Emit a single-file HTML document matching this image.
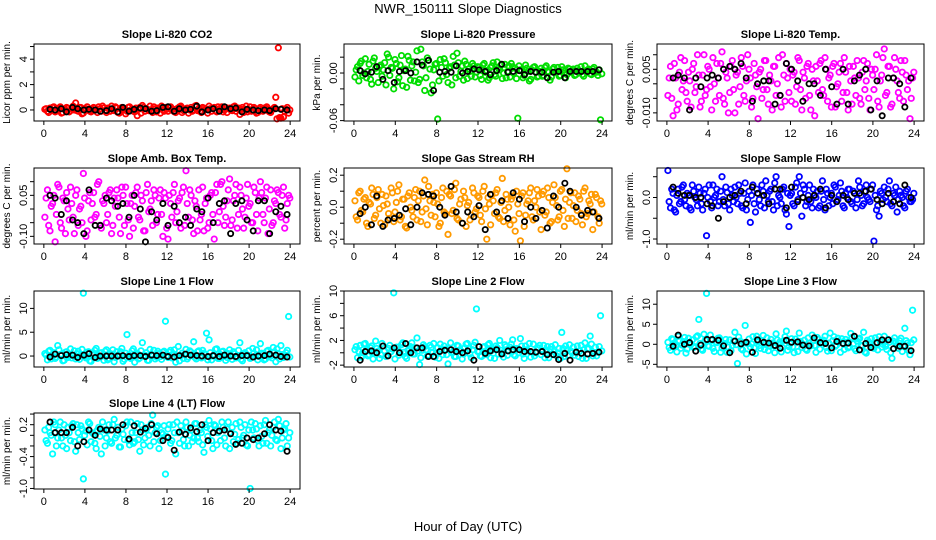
<!DOCTYPE html>
<html><head><meta charset="utf-8"><style>
body{margin:0;background:#fff;}
svg{display:block;font-family:"Liberation Sans",Arial,sans-serif;}
</style></head><body>
<svg id="chart" width="936" height="540" viewBox="0 0 936 540" xmlns="http://www.w3.org/2000/svg">
<rect width="936" height="540" fill="#fff"/>
<text x="468" y="13" text-anchor="middle" font-size="13">NWR_150111  Slope Diagnostics</text>
<text x="468" y="531" text-anchor="middle" font-size="13">Hour of Day (UTC)</text>
</svg>
<script>
const xColored = [0.1,0.35,0.6,0.85,1.1,1.35,1.6,1.85,2.1,2.35,2.6,2.85,3.1,3.35,3.6,3.85,4.1,4.35,4.6,4.85,5.1,5.35,5.6,5.85,6.1,6.35,6.6,6.85,7.1,7.35,7.6,7.85,8.1,8.35,8.6,8.85,9.1,9.35,9.6,9.85,10.1,10.35,10.6,10.85,11.1,11.35,11.6,11.85,12.1,12.35,12.6,12.85,13.1,13.35,13.6,13.85,14.1,14.35,14.6,14.85,15.1,15.35,15.6,15.85,16.1,16.35,16.6,16.85,17.1,17.35,17.6,17.85,18.1,18.35,18.6,18.85,19.1,19.35,19.6,19.85,20.1,20.35,20.6,20.85,21.1,21.35,21.6,21.85,22.1,22.35,22.6,22.85,23.1,23.35,23.6,23.85];
const xColored2 = [0.22,0.47,0.72,0.97,1.22,1.47,1.72,1.97,2.22,2.47,2.72,2.97,3.22,3.47,3.72,3.97,4.22,4.47,4.72,4.97,5.22,5.47,5.72,5.97,6.22,6.47,6.72,6.97,7.22,7.47,7.72,7.97,8.22,8.47,8.72,8.97,9.22,9.47,9.72,9.97,10.22,10.47,10.72,10.97,11.22,11.47,11.72,11.97,12.22,12.47,12.72,12.97,13.22,13.47,13.72,13.97,14.22,14.47,14.72,14.97,15.22,15.47,15.72,15.97,16.22,16.47,16.72,16.97,17.22,17.47,17.72,17.97,18.22,18.47,18.72,18.97,19.22,19.47,19.72,19.97,20.22,20.47,20.72,20.97,21.22,21.47,21.72,21.97,22.22,22.47,22.72,22.97,23.22,23.47,23.72,23.97];
const xBlack = [0.6,1.1,1.7,2.2,2.8,3.3,3.9,4.4,5.0,5.5,6.1,6.6,7.2,7.7,8.3,8.8,9.4,9.9,10.5,11.0,11.6,12.1,12.7,13.2,13.8,14.3,14.9,15.4,16.0,16.5,17.1,17.6,18.2,18.7,19.3,19.8,20.4,20.9,21.5,22.0,22.6,23.1,23.7];
const xTicks = [0,4,8,12,16,20,24];

const co2C = [0.05,-0.1,0.15,0.2,-0.15,0.1,0.25,-0.2,0.0,0.12,-0.05,0.3, 0.55,-0.1,0.2,-0.25,0.1,0.05,-0.15,0.2,0.0,0.25,-0.1,0.15, -0.2,0.1,0.3,-0.05,0.15,-0.25,0.2,0.05,-0.1,0.25,0.0,-0.15, -0.45,0.2,0.35,-0.1,0.05,0.3,-0.2,0.1,0.15,-0.25,0.0,0.2, -0.1,0.25,0.05,-0.2,0.15,0.3,-0.05,0.1,-0.25,0.2,0.0,0.35, 0.1,-0.2,0.15,0.05,0.3,-0.1,0.2,-0.15,0.1,0.25,0.0,-0.2, 0.15,-0.05,0.3,0.1,-0.35,0.2,0.05,-0.15,0.25,0.0,0.1,-0.2, 0.2,-0.1,0.15,0.05,-0.2,0.1,1.0,4.9,-0.65,-0.55,0.05,-0.25];
const co2C2 = [0.1,-0.2,0.0,0.25,-0.1,0.15,-0.25,0.05,0.2,-0.15,0.1,0.0, -0.05,0.2,-0.3,0.1,0.25,-0.1,0.0,0.15,-0.2,0.1,0.3,-0.05, 0.15,-0.1,0.0,0.25,-0.2,0.1,0.05,-0.3,0.2,0.0,-0.1,0.15, 0.05,-0.25,0.2,0.1,-0.05,0.0,0.25,-0.15,0.1,0.3,-0.1,0.05, 0.2,0.0,-0.15,0.1,0.25,-0.2,0.05,0.15,0.0,-0.1,0.3,-0.05, -0.1,0.2,0.05,-0.25,0.1,0.15,-0.05,0.25,0.0,-0.15,0.2,0.1, 0.0,0.25,-0.1,0.15,0.05,-0.2,0.3,0.0,-0.1,0.2,-0.25,0.1, -0.05,0.15,0.25,-0.15,0.0,0.2,-0.7,-0.6,0.1,-0.1,0.2,0.0];
const co2B = [0.05,0.0,0.1,-0.15,0.2,0.1,0.0,0.05,0.0,-0.1,-0.05,0.1,-0.15,0.2,-0.1,0.05,0.15,0.1,-0.1,-0.05,0.2,0.25,-0.1,0.1,0.0,0.05,0.3,-0.15,0.0,0.1,-0.1,0.25,0.1,0.15,-0.15,0.05,0.0,-0.05,0.0,-0.05,0.1,0.05,0.0];

const presC = [-0.005,0.008,0.012,-0.003,0.018,0.002,-0.008,0.015,0.006,-0.012,0.01,0.004, -0.015,0.02,0.007,-0.02,0.012,-0.006,0.022,0.003,-0.018,0.016,0.009,-0.01, 0.028,-0.008,0.014,-0.022,0.019,0.005,-0.015,0.011,-0.058,0.017,-0.004,0.013, -0.012,0.008,0.021,-0.006,0.013,0.002,-0.009,0.011,0.005,-0.004,0.009,0.001, 0.007,-0.008,0.012,0.003,-0.006,0.009,-0.002,0.014,0.004,-0.007,0.011,0.002, -0.005,0.008,0.006,-0.057,0.004,-0.006,0.01,0.002,-0.008,0.007,0.001,-0.004, 0.006,-0.003,0.009,0.001,-0.005,0.007,0.002,-0.004,0.008,0.0,-0.002,0.005, 0.003,-0.003,0.006,0.001,-0.002,0.009,0.004,-0.001,0.005,0.002,-0.003,-0.059];
const presC2 = [0.004,-0.01,0.015,0.0,-0.006,0.011,-0.014,0.019,0.002,0.008,-0.004,0.013, 0.024,-0.003,0.006,0.017,-0.011,0.01,-0.016,0.005,0.021,-0.009,0.014,0.001, -0.012,0.03,0.009,-0.006,0.016,-0.025,0.004,0.012,-0.01,0.007,0.018,-0.002, 0.006,-0.015,0.01,0.025,-0.004,0.009,0.015,-0.007,0.002,0.012,-0.005,0.008, -0.003,0.01,0.001,-0.009,0.007,0.013,-0.004,0.006,0.01,0.0,-0.006,0.009, 0.012,0.0,-0.007,0.009,0.003,-0.003,0.006,-0.01,0.004,0.008,-0.005,0.002, -0.004,0.007,0.002,-0.009,0.005,0.001,0.007,-0.003,0.004,-0.006,0.006,0.001, 0.005,-0.002,0.003,0.008,-0.004,0.002,0.005,-0.002,0.007,0.001,0.004,-0.001];
const presB = [0.003,-0.001,0.001,0.008,-0.008,0.003,-0.012,0.002,0.003,0.0,0.014,0.01,0.016,-0.022,0.001,0.002,0.001,0.009,0.0,0.002,0.005,0.004,0.002,-0.002,0.003,0.011,0.001,0.002,0.003,-0.002,0.002,0.001,0.001,-0.006,0.001,0.002,-0.006,0.002,0.002,0.002,0.002,0.002,0.004];

const tempC = [-0.004,0.006,-0.011,0.002,-0.007,0.009,0.001,-0.003,0.004,-0.008,0.007,-0.001, 0.003,-0.006,0.01,-0.002,0.005,-0.009,0.0,0.007,-0.004,0.011,-0.007,0.002, -0.003,0.008,-0.01,0.004,-0.001,0.006,-0.006,0.01,0.002,-0.005,0.003,-0.012, 0.005,-0.002,0.008,-0.007,0.001,0.006,-0.004,0.009,-0.008,0.003,0.007,-0.003, -0.006,0.004,-0.001,0.008,-0.009,0.002,0.006,-0.004,0.005,-0.011,0.001,0.007, -0.002,0.009,-0.006,0.003,0.006,-0.008,0.0,0.007,-0.003,0.004,-0.009,0.001, 0.006,-0.004,0.002,-0.007,0.008,0.001,-0.005,0.005,-0.002,0.01,-0.008,0.003, 0.012,-0.003,0.006,-0.007,0.009,0.001,-0.005,0.004,0.008,-0.002,-0.012,0.002];
const tempC2 = [0.002,-0.005,0.007,-0.009,0.004,-0.002,0.008,-0.006,0.001,0.005,-0.003,0.01, -0.008,0.003,-0.004,0.006,-0.001,0.009,-0.006,0.002,0.007,-0.005,0.004,-0.01, 0.006,-0.002,0.003,-0.007,0.009,-0.004,0.001,0.005,-0.008,0.007,-0.001,0.004, -0.005,0.008,-0.002,0.003,-0.009,0.006,0.0,-0.004,0.01,-0.006,0.002,0.005, 0.003,-0.007,0.009,-0.002,0.004,-0.005,0.007,-0.009,0.001,0.006,-0.003,0.008, -0.004,0.005,0.002,-0.008,0.007,-0.001,0.004,-0.006,0.009,-0.003,0.006,-0.007, 0.002,0.008,-0.005,0.004,-0.002,0.007,-0.009,0.003,0.005,-0.006,0.001,0.009, -0.004,0.006,-0.008,0.002,0.005,-0.003,0.008,-0.006,0.003,0.001,-0.005,0.004];
const tempB = [0.002,0.003,0.002,-0.009,0.002,-0.001,0.002,0.003,0.002,0.005,0.006,0.005,0.007,0.002,-0.006,0.0,0.001,0.001,-0.007,-0.004,0.007,0.005,0.001,-0.006,0.0,0.0,-0.004,0.005,-0.001,-0.007,0.005,-0.007,0.001,0.003,0.005,-0.009,0.001,-0.011,0.002,0.002,0.0,-0.008,0.002];

const ambC = [-0.03,0.07,-0.08,0.02,-0.12,0.09,-0.05,0.04,-0.09,0.0,0.08,-0.03, 0.05,-0.06,0.01,0.13,-0.1,0.03,-0.04,0.06,-0.02,0.1,-0.07,0.02, -0.05,0.06,-0.09,0.04,0.07,-0.03,0.08,-0.06,0.02,-0.1,0.05,0.01, 0.08,-0.04,0.03,-0.08,0.09,0.0,-0.06,0.05,-0.02,0.07,-0.1,0.04, -0.11,0.02,0.06,-0.05,0.03,-0.07,0.08,0.14,-0.03,0.05,-0.09,0.01, 0.07,-0.02,-0.08,0.04,-0.05,0.06,-0.11,0.09,-0.01,0.1,-0.06,0.03, 0.11,-0.04,0.05,-0.07,0.08,0.0,-0.03,0.09,0.02,-0.05,0.06,-0.08, 0.1,-0.02,0.04,-0.09,0.07,-0.05,0.02,0.06,-0.03,0.08,-0.04,0.05];
const ambC2 = [0.04,-0.06,0.01,0.05,-0.02,0.08,-0.07,0.03,0.06,-0.04,0.02,-0.09, 0.07,0.0,-0.05,0.04,-0.08,0.06,0.02,-0.03,0.09,-0.06,0.03,0.05, -0.02,0.07,-0.06,0.01,0.04,-0.09,0.05,0.08,-0.04,0.02,-0.07,0.06, -0.03,0.05,-0.08,0.06,-0.01,0.03,0.07,-0.05,0.04,-0.02,0.06,-0.07, 0.05,-0.03,0.09,-0.01,0.04,0.06,-0.06,0.02,0.07,-0.04,0.03,-0.08, -0.04,0.08,0.02,-0.07,0.05,-0.02,0.06,-0.05,0.09,0.01,-0.03,0.07, -0.06,0.03,0.09,-0.02,0.05,-0.07,0.04,0.01,-0.05,0.08,-0.02,0.04, 0.06,-0.05,0.08,0.0,-0.06,0.03,0.07,-0.02,0.05,-0.07,0.02,0.04];
const ambB = [0.05,0.04,-0.02,0.03,-0.04,-0.05,-0.09,0.07,-0.06,-0.06,0.04,0.03,0.01,0.02,-0.03,0.05,0.0,-0.12,-0.01,-0.04,0.02,-0.06,0.01,-0.05,-0.03,-0.06,0.0,-0.01,0.04,-0.05,0.02,0.03,-0.09,0.02,0.03,-0.04,-0.08,0.03,0.03,-0.09,-0.01,0.01,-0.02];

const rhC = [0.04,-0.08,0.1,-0.03,0.06,-0.12,0.02,0.08,-0.05,0.11,-0.1,0.01, 0.07,-0.04,0.12,-0.09,0.03,0.14,-0.06,0.05,-0.13,0.09,-0.02,0.06, -0.08,0.1,-0.03,0.17,-0.11,0.04,0.08,-0.06,0.02,-0.1,0.12,-0.04, -0.17,0.07,-0.02,0.15,-0.08,0.05,0.1,-0.12,0.03,-0.05,0.09,-0.01, 0.06,-0.09,0.13,-0.2,0.02,0.08,-0.04,0.11,-0.07,0.18,-0.02,0.05, -0.11,0.07,-0.15,0.02,-0.21,0.09,-0.05,0.04,0.12,-0.08,0.0,0.07, -0.14,0.1,-0.03,0.06,-0.09,0.14,0.01,-0.06,0.11,-0.12,0.24,0.03, -0.07,0.09,-0.02,0.05,-0.11,0.12,-0.04,0.02,-0.14,0.08,-0.06,0.04];
const rhC2 = [-0.06,0.09,-0.02,0.05,-0.1,0.03,0.12,-0.07,0.06,-0.01,0.08,-0.11, 0.02,-0.07,0.09,-0.03,0.1,-0.08,0.05,-0.12,0.07,0.0,-0.06,0.11, 0.04,-0.09,0.07,-0.01,0.13,-0.05,0.03,0.09,-0.12,0.06,-0.03,0.1, 0.08,-0.04,0.11,-0.07,0.02,-0.1,0.06,0.01,-0.08,0.12,-0.03,0.07, -0.05,0.1,-0.01,0.06,-0.11,0.04,0.09,-0.06,0.03,-0.09,0.08,0.0, 0.05,-0.08,0.1,-0.04,0.07,-0.12,0.02,0.09,-0.06,0.04,0.11,-0.03, 0.08,-0.05,0.12,-0.1,0.03,0.06,-0.08,0.1,-0.02,0.05,-0.07,0.09, 0.01,-0.09,0.07,-0.04,0.1,-0.06,0.04,0.08,-0.03,0.06,-0.1,0.02];
const rhB = [-0.04,0.0,-0.11,0.07,-0.12,-0.08,-0.07,-0.05,-0.01,-0.11,0.0,0.09,0.08,0.07,0.0,-0.05,0.13,-0.03,-0.1,-0.03,-0.06,0.01,-0.14,0.08,-0.03,0.04,-0.07,0.09,0.05,-0.09,0.0,-0.07,-0.02,-0.13,0.07,0.0,0.15,0.1,0.0,-0.05,-0.02,-0.03,-0.07];

const sampC = [0.65,-0.25,0.1,-0.35,0.2,-0.1,0.3,-0.2,0.05,-0.3,0.15,-0.05, 0.25,-0.15,0.1,-0.92,0.3,-0.25,0.0,0.2,-0.1,0.5,-0.2,0.12, -0.3,0.05,0.25,-0.15,0.1,-0.25,0.35,-0.05,-0.6,0.3,-0.35,0.1, -0.2,0.15,0.4,-0.1,0.2,-0.3,0.5,0.05,-0.15,0.25,-0.4,-0.7, 0.1,-0.2,0.35,0.5,-0.45,0.2,-0.1,0.3,-0.25,0.05,0.15,-0.2, 0.4,-0.3,0.1,0.0,-0.15,0.25,-0.05,0.35,-0.2,0.1,0.2,-0.1, 0.15,-0.25,0.4,0.05,-0.15,0.3,-0.05,0.2,-1.05,-0.3,-0.45,0.1, 0.25,-0.1,0.4,-0.2,0.05,-0.35,0.15,0.0,-0.25,0.2,-0.1,-0.05];
const sampC2 = [-0.1,0.2,-0.3,0.05,-0.15,0.25,-0.05,0.1,-0.25,0.3,0.0,-0.2, 0.1,-0.3,0.2,0.0,-0.1,0.3,0.05,-0.2,0.15,-0.05,0.25,-0.15, 0.2,-0.1,0.0,0.3,-0.2,0.1,-0.3,0.15,0.05,-0.15,0.2,-0.05, 0.3,-0.25,0.05,0.15,-0.1,0.35,-0.2,0.0,0.2,-0.3,0.1,0.05, -0.15,0.25,-0.05,0.1,0.3,-0.2,0.05,-0.1,0.2,0.0,-0.25,0.15, -0.05,0.2,-0.2,0.1,0.3,-0.1,0.05,0.15,-0.25,0.0,0.2,-0.15, 0.1,-0.05,0.25,-0.2,0.15,0.0,-0.1,0.3,0.05,-0.2,0.15,-0.05, 0.0,0.2,-0.15,0.1,0.25,-0.05,0.05,-0.2,0.15,0.0,-0.1,0.1];
const sampB = [0.25,0.1,0.05,0.05,0.0,0.0,-0.15,-0.2,-0.5,-0.1,0.0,0.05,0.15,-0.15,0.25,0.1,0.05,-0.15,0.2,0.2,-0.25,0.25,-0.1,0.0,-0.05,0.05,0.2,-0.25,0.05,-0.1,0.05,-0.05,0.1,0.1,0.15,0.2,-0.05,-0.15,0.1,-0.1,-0.15,0.3,0.0];

const l1C = [0.5,-0.8,1.2,0.0,-0.5,2.2,0.3,-1.0,0.8,-0.3,1.5,0.1, -0.6,1.0,0.2,13.2,-0.4,0.9,-1.1,0.5,1.6,-0.2,0.7,-0.9, 1.3,-0.5,0.4,-1.2,0.9,0.0,1.6,-0.7,4.5,-0.3,1.1,-1.3, 0.6,-0.4,2.8,0.2,-0.9,1.4,0.0,-0.6,1.0,-0.1,0.8,7.3, -0.3,1.2,0.5,-1.3,2.0,0.1,-0.5,1.4,-0.2,0.8,3.0,-0.6, 1.1,-0.4,0.6,4.8,3.4,-0.8,0.3,1.5,-0.5,0.9,0.0,-0.3, 1.3,-0.7,0.5,-0.1,2.8,-1.0,0.7,0.2,-0.5,1.6,0.0,-0.8, 2.6,0.4,-0.6,1.2,0.0,1.8,-1.2,0.5,2.2,-0.3,0.7,8.3];
const l1C2 = [0.2,1.0,-0.6,0.7,-0.2,1.3,0.4,-0.9,0.9,0.0,-0.4,1.1, 0.5,-0.7,1.4,-0.1,0.8,-1.0,0.3,1.2,-0.5,0.6,0.0,1.0, -0.8,0.5,1.3,-0.3,0.2,0.9,-1.1,0.6,0.1,-0.5,1.5,0.3, -0.6,1.1,0.0,0.7,-0.9,0.4,1.2,-0.2,0.5,-0.7,1.0,0.1, 0.8,-0.4,1.3,0.0,-1.0,0.6,0.3,-0.6,1.1,0.2,-0.3,0.9, -0.2,1.2,0.4,-0.8,0.7,0.0,1.4,-0.5,0.3,1.0,-0.9,0.5, 0.1,0.9,-0.4,1.2,-0.7,0.5,0.2,1.1,-0.3,0.6,1.3,-0.1, 0.6,-0.8,1.0,0.2,-0.4,0.9,1.5,-0.6,0.3,0.0,1.2,-0.2];
const l1B = [-0.2,0.4,0.1,0.3,0.2,-0.3,0.2,0.5,-0.3,0.0,0.0,0.0,0.0,0.1,-0.1,0.1,0.1,-0.1,0.2,0.1,0.2,-0.1,-0.2,0.1,0.4,0.2,0.1,0.0,-0.1,0.1,-0.1,0.2,0.0,-0.1,0.1,0.1,-0.2,0.0,0.1,0.4,0.2,-0.1,-0.2];

const l2C = [0.5,-0.8,1.2,0.0,1.5,-0.5,0.8,-1.0,1.9,0.3,-0.3,1.1, -0.6,0.7,0.2,9.7,0.9,-0.4,1.3,0.1,-0.9,0.6,1.6,-0.2, 2.4,-1.9,0.4,1.0,-0.5,1.2,0.0,-0.7,0.8,1.4,-0.3,0.6, -1.8,1.6,0.1,-0.6,1.1,0.3,-0.2,1.4,0.7,-0.8,1.2,7.1, 0.2,-0.6,1.0,-0.3,1.5,0.4,-0.9,0.8,2.0,0.0,1.3,-0.4, 0.9,2.1,-0.5,0.6,2.3,-0.2,1.1,0.3,-0.7,1.4,0.0,0.8, -0.3,1.2,0.4,-0.8,1.0,0.2,-0.5,0.7,3.3,-0.6,0.5,1.3, 0.0,-0.4,1.1,0.3,-0.9,1.6,0.6,2.7,-0.5,0.9,0.1,6.0];
const l2C2 = [1.0,0.2,-0.7,1.4,0.5,-0.3,1.1,0.0,0.7,-0.9,1.5,0.3, -0.4,1.2,0.6,-1.0,0.9,0.1,1.6,-0.6,0.4,1.0,-0.2,0.8, 0.3,-0.8,1.3,0.5,-0.4,0.9,1.5,0.0,-0.9,0.6,1.1,-0.3, 0.7,0.0,-0.6,1.2,0.4,-1.0,0.8,1.5,-0.2,0.5,1.7,0.2, -0.5,0.9,0.2,1.3,-0.8,0.6,1.1,-0.2,0.4,-0.7,1.0,0.3, 1.4,-0.3,0.7,0.0,1.1,-0.9,0.5,1.5,0.1,-0.5,0.8,1.2, 0.4,-0.8,1.0,0.6,-0.2,1.3,0.0,-0.9,0.7,1.1,-0.4,0.3, 0.9,0.2,-0.6,1.2,0.5,-0.9,0.7,1.4,0.0,-0.5,1.0,0.3];
const l2B = [-1.2,0.2,0.3,0.0,1.1,-0.5,0.8,0.0,1.5,0.0,0.8,0.8,-0.6,-0.6,0.2,0.4,0.5,0.2,0.0,0.3,-1.2,1.0,-0.1,0.3,0.5,-0.2,0.3,0.5,0.5,0.2,0.2,0.1,0.2,-0.3,-0.3,-1.1,-0.1,-1.2,0.1,-0.1,-0.2,-0.1,0.1];

const l3C = [0.5,-1.5,1.2,-0.3,2.0,-1.0,0.7,-2.2,1.5,0.0,-0.8,1.8, 6.2,-1.2,2.5,12.7,-0.5,1.0,-1.8,0.4,1.6,-0.9,0.2,-2.0, 1.1,-0.3,3.0,-4.8,0.8,-1.4,4.7,0.1,-0.7,1.9,-2.3,0.6, -1.0,2.2,0.3,-1.6,1.2,-0.4,2.6,0.0,-1.9,0.9,3.3,-0.6, 1.4,-2.1,0.5,2.8,-0.8,1.0,-1.5,0.2,2.3,-0.3,1.7,-1.2, 0.4,2.0,-1.7,2.8,0.9,-0.5,1.5,-2.0,0.3,1.2,-0.9,2.7, 0.1,-1.6,1.3,-0.3,3.0,-2.2,0.6,1.4,-1.0,0.2,1.9,-0.7, 2.0,-1.3,0.5,-3.5,1.6,-0.4,0.9,-1.8,4.0,0.3,-2.6,8.5];
const l3C2 = [-0.8,1.4,0.3,-1.9,0.9,-0.2,1.7,-1.2,0.5,1.1,-0.6,2.1, 0.2,-1.5,1.0,-0.4,2.3,-1.0,0.6,1.5,-2.0,0.0,1.2,-0.7, -1.6,0.8,-0.1,1.8,-1.1,0.4,-2.4,1.3,0.1,-0.9,2.0,-0.3, 0.9,-1.3,1.6,-0.5,0.3,-2.1,1.1,0.6,-0.8,1.9,-1.5,0.2, -0.6,1.3,-1.8,0.7,0.0,-1.2,1.6,-0.4,0.9,-2.0,1.2,0.4, 1.0,-0.8,0.3,-1.6,1.9,-0.2,0.7,1.4,-1.3,0.5,-0.6,1.7, -1.1,0.8,1.5,-0.4,-1.9,1.0,0.2,-0.9,1.6,-1.4,0.6,0.0, -0.5,1.2,-2.1,0.8,0.3,-1.0,1.5,-0.3,0.9,-1.6,0.4,1.1];
const l3B = [-0.5,2.3,0.0,0.4,-1.7,-0.2,1.2,1.2,1.0,-0.4,-2.1,0.8,0.1,0.5,-2.0,1.1,0.5,0.3,-0.3,-1.0,1.0,0.5,0.6,-0.2,-0.4,1.6,0.4,0.2,-0.9,0.7,0.2,0.3,2.0,-1.4,0.2,-0.8,0.4,1.1,1.1,-1.1,-0.5,-0.5,-1.6];

const l4C = [0.1,-0.15,0.05,-0.35,0.2,-0.05,0.25,-0.2,0.0,0.15,-0.1,0.22, -0.3,0.05,0.18,-0.82,0.08,0.25,-0.12,0.02,-0.25,0.15,-0.35,0.1, -0.05,0.2,-0.15,0.3,0.0,-0.22,0.12,-0.08,0.25,-0.18,0.05,-0.12, 0.22,-0.3,0.1,-0.05,0.15,-0.2,0.38,0.05,0.18,-0.1,0.02,-0.73, 0.12,-0.15,0.2,-0.35,0.05,0.18,-0.08,0.25,-0.2,0.1,-0.05,0.22, -0.12,0.05,-0.32,0.15,0.28,-0.1,0.2,-0.18,0.08,0.25,-0.05,0.12, -0.25,0.15,0.02,-0.15,0.25,-0.05,0.2,-0.2,-1.0,0.1,0.22,-0.1, 0.18,-0.15,0.28,0.05,-0.2,0.15,-0.08,0.3,-0.25,0.1,0.22,-0.05];
const l4C2 = [-0.1,0.15,0.0,0.25,-0.2,0.1,-0.05,0.2,-0.25,0.05,0.18,-0.12, 0.2,-0.08,0.12,0.0,-0.18,0.22,0.05,-0.15,0.1,-0.02,0.25,-0.2, 0.08,-0.12,0.2,-0.05,0.15,-0.22,0.02,0.18,-0.1,0.25,-0.15,0.05, -0.08,0.2,-0.18,0.1,0.0,0.22,-0.12,0.15,-0.25,0.05,0.18,-0.02, 0.2,-0.1,0.05,0.25,-0.15,0.08,-0.2,0.15,0.0,-0.12,0.22,-0.05, 0.1,-0.18,0.2,-0.02,0.12,-0.25,0.18,0.05,-0.1,0.15,-0.2,0.25, 0.05,-0.12,0.22,-0.08,0.15,0.0,-0.18,0.1,0.25,-0.05,0.12,-0.2, -0.02,0.2,-0.15,0.1,0.0,0.25,-0.1,0.18,-0.05,0.12,-0.2,0.05];
const l4B = [0.25,0.05,0.05,0.05,0.15,-0.2,-0.12,0.1,0.0,0.12,0.1,0.1,0.1,0.2,-0.07,0.18,0.06,0.13,0.2,0.03,-0.1,-0.04,-0.28,0.06,0.02,0.14,0.07,0.2,-0.1,0.05,0.08,0.1,0.03,-0.17,-0.15,-0.05,-0.08,-0.05,0.03,0.2,0.1,0.08,-0.3];

const panelTitles = ["Slope Li-820 CO2","Slope Li-820 Pressure","Slope Li-820 Temp.","Slope Amb. Box Temp.","Slope Gas Stream RH","Slope Sample Flow","Slope Line 1 Flow","Slope Line 2 Flow","Slope Line 3 Flow","Slope Line 4 (LT) Flow"];
const yAxisTitles = ["Licor ppm per min.","kPa per min.","degrees C per min.","degrees C per min.","percent per min.","ml/min per min.","ml/min per min.","ml/min per min.","ml/min per min.","ml/min per min."];
const yTickVals = [[0,1,2,3,4,5],[0.02,0,-0.02,-0.04,-0.06],[0.01,0.005,0,-0.005,-0.01],[0.1,0.05,0,-0.05,-0.1],[0.2,0.1,0,-0.1,-0.2],[0.5,0,-0.5,-1],[10,5,0],[10,8,6,4,2,0,-2],[10,5,0,-5],[0.4,0.2,0,-0.2,-0.4,-0.6,-0.8,-1.0]];
const yTickLabels = [["0","","2","","4",""],["","0.00","","","-0.06"],["","0.005","","","-0.010"],["","0.05","","","-0.10"],["0.2","","0.0","","-0.2"],["","0.0","","-1.0"],["10","5","0"],["10","","6","","2","","-2"],["10","5","0","-5"],["","0.2","","","-0.4","","","-1.0"]];
const coloredSeries = [co2C,presC,tempC,ambC,rhC,sampC,l1C,l2C,l3C,l4C];
const coloredSeries2 = [co2C2,presC2,tempC2,ambC2,rhC2,sampC2,l1C2,l2C2,l3C2,l4C2];
const blackSeries = [co2B,presB,tempB,ambB,rhB,sampB,l1B,l2B,l3B,l4B];

const colors = ["#ff0000","#00dd00","#ff00ff","#ff00ff","#ff9a00","#0000ff","#00ffff","#00ffff","#00ffff","#00ffff"];
const yRanges = [[-0.87,5.2],[-0.0605,0.0366],[-0.0128,0.0137],[-0.128,0.15],[-0.23,0.245],[-1.12,0.71],[-2.3,13.65],[-2.3,10],[-5.67,13.3],[-1.01,0.42]];
const colBox = [[34,300],[344,612],[657,924]];
const rowBox = [[44,121],[168,244],[291,367],[413,489]];

const NS = "http://www.w3.org/2000/svg";
const svg = document.getElementById("chart");
function mk(tag, attrs, parent) {
  const e = document.createElementNS(NS, tag);
  for (const k in attrs) e.setAttribute(k, attrs[k]);
  (parent || svg).appendChild(e);
  return e;
}
for (let p = 0; p < 10; p++) {
  const cb = colBox[p % 3], rb = rowBox[Math.floor(p / 3)];
  const L = cb[0], R = cb[1], T = rb[0], B = rb[1];
  const pad = 24 * 0.04;
  const xs = v => L + (v + pad) / (24 + 2 * pad) * (R - L);
  const ys = v => B - (v - yRanges[p][0]) / (yRanges[p][1] - yRanges[p][0]) * (B - T);
  const g = mk("g", {});
  
  
  const t = mk("text", {x: (L + R) / 2, y: T - 6, "text-anchor": "middle", "font-size": "11", "font-weight": "bold"}, g);
  t.textContent = panelTitles[p];
  
  
  const yl = mk("text", {x: 0, y: 0, transform: "translate(" + (L - 24) + "," + ((T + B) / 2) + ") rotate(-90)", "text-anchor": "middle", "font-size": "10"}, g);
  yl.textContent = yAxisTitles[p];
  
  
  const sets = [[xColored, coloredSeries[p]], [xColored2, coloredSeries2[p]]];
  for (const [xa, ya] of sets) {
    for (let i = 0; i < ya.length && i < xa.length; i++) {
      const c = mk("circle", {cx: xs(xa[i]), cy: ys(ya[i]), r: 2.7, fill: "none", stroke: colors[p], "stroke-width": 1.8}, g);
      
      
    }
  }
  const bs = blackSeries[p];
  for (let i = 0; i < bs.length && i < xBlack.length; i++) {
    const c = mk("circle", {cx: xs(xBlack[i]), cy: ys(bs[i]), r: 2.6, fill: "none", stroke: "#000", "stroke-width": 1.8}, g);
    
    
  }
  const box = mk("rect", {x: L, y: T, width: R - L, height: B - T, fill: "none", stroke: "#000", "stroke-width": 1}, g);
  
  
  for (let i = 0; i < xTicks.length; i++) {
    const x = xs(xTicks[i]);
    mk("line", {x1: x, x2: x, y1: B, y2: B + 4, stroke: "#000"}, g);
    const tl = mk("text", {x: x, y: B + 16, "text-anchor": "middle", "font-size": "11"}, g);
    tl.textContent = String(xTicks[i]);
    
    
  }
  const tv = yTickVals[p], tls = yTickLabels[p];
  for (let i = 0; i < tv.length; i++) {
    const y = ys(tv[i]);
    mk("line", {x1: L - 4, x2: L, y1: y, y2: y, stroke: "#000"}, g);
    if (tls[i]) {
      const tl = mk("text", {x: 0, y: 0, transform: "translate(" + (L - 7) + "," + y + ") rotate(-90)", "text-anchor": "middle", "font-size": "11"}, g);
      tl.textContent = tls[i];
      
      
    }
  }
}
</script>
</body></html>
